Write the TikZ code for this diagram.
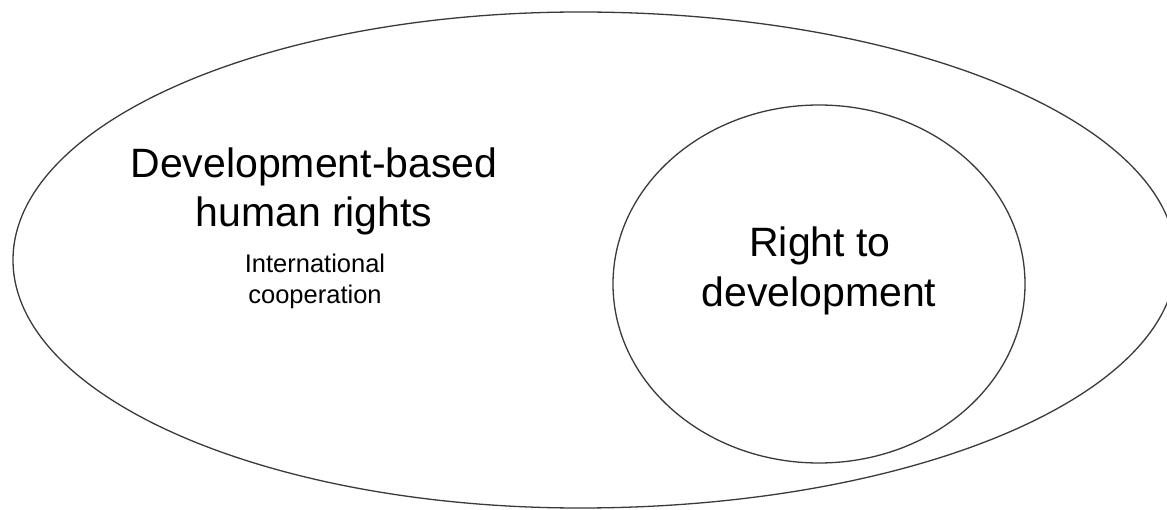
\documentclass[tikz,border=0pt]{standalone}
\usepackage{fontspec}
\setmainfont{Liberation Sans}
\usetikzlibrary{shapes.geometric}
\definecolor{edgegray}{HTML}{3A3A3A}
\begin{document}
\begin{tikzpicture}[x=1pt,y=1pt,
  outline/.style={draw=edgegray,line width=1.3pt},
  bigtext/.style={anchor=base,inner sep=0pt,font=\fontsize{41}{49}\selectfont},
  smalltext/.style={anchor=base,inner sep=0pt,font=\fontsize{25.5}{31}\selectfont}]
  % page frame; the outer oval runs slightly past the right edge
  \clip (0,0) rectangle (1167,509);
  \fill[white] (0,0) rectangle (1167,509);

  % outer oval: development-based human rights
  \draw[outline] (580,497) arc[start angle=90,end angle=270,x radius=567,y radius=248]
                 arc[start angle=270,end angle=450,x radius=596,y radius=248] -- cycle;

  % inner oval: right to development
  \node[outline,ellipse,minimum width=412,minimum height=358,inner sep=0pt] (rtd) at (819,225) {};

  % labels of the outer oval
  \node[bigtext] (dbhr1) at (314,331) {Development-based};
  \node[bigtext] (dbhr2) at (314,282) {human rights};
  \node[smalltext] (ic1) at (315,236) {International};
  \node[smalltext] (ic2) at (315,205) {cooperation};

  % labels of the inner oval
  \node[bigtext] (rtd1) at (820,252) {Right to};
  \node[bigtext] (rtd2) at (819,202) {development};
\end{tikzpicture}
\end{document}
